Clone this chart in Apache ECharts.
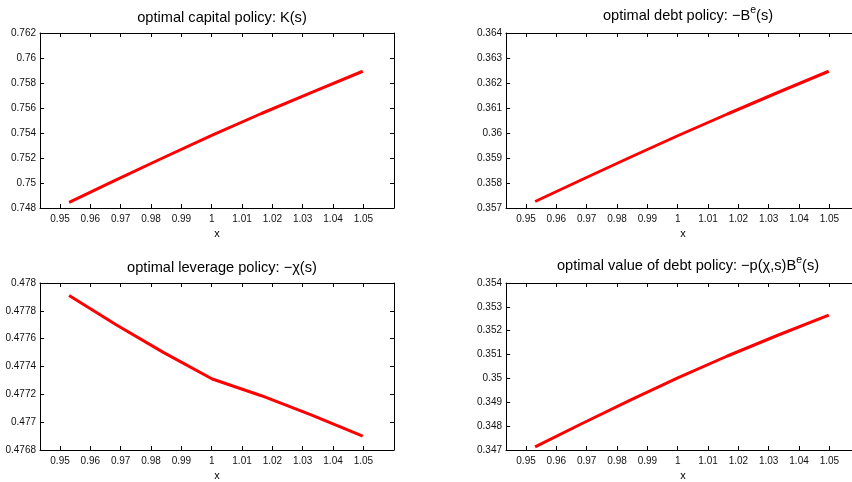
<!DOCTYPE html>
<html>
<head>
<meta charset="utf-8">
<script src="https://cdn.jsdelivr.net/npm/echarts@6/dist/echarts.min.js"></script>
<style>
  html, body { margin: 0; padding: 0; background: #fff; overflow: hidden; }
  /* the right-hand panels run past the window edge in the original figure */
  #chart-container { width: 872px; height: 482px; }
</style>
</head>
<body>
<div id="chart-container"></div>
<script>
// state grid (x) and the four policy functions
var xs = [0.9530, 0.9685, 0.9842, 1.0002, 1.0164, 1.0330, 1.0498];
var capital = [0.74845, 0.75025, 0.75204, 0.75383, 0.75556, 0.75725, 0.75894];
var debt = [0.35726, 0.35814, 0.35902, 0.35990, 0.36076, 0.36162, 0.36247];
var leverage = [0.47791, 0.47770, 0.47750, 0.47731, 0.47719, 0.47705, 0.47690];
var debtValue = [0.34713, 0.34811, 0.34908, 0.35003, 0.35094, 0.35181, 0.35265];

var xTicks = [0.95, 0.96, 0.97, 0.98, 0.99, 1, 1.01, 1.02, 1.03, 1.04, 1.05];
var titles = [
    'optimal capital policy: K(s)',
    'optimal debt policy: \u2212B{sup|e}(s)',
    'optimal leverage policy: \u2212\u03c7(s)',
    'optimal value of debt policy: \u2212p(\u03c7,s)B{sup|e}(s)'
];
var yRanges = [
    [0.748, 0.762, 0.002],
    [0.357, 0.364, 0.001],
    [0.4768, 0.478, 0.0002],
    [0.347, 0.354, 0.001]
];
var seriesData = [capital, debt, leverage, debtValue];

var dom = document.getElementById('chart-container');
var myChart = echarts.init(dom, null, { renderer: 'canvas' });

var font = 'Liberation Sans, Arial, Helvetica, sans-serif';
var boxes = [
    { left: 40, top: 33 },
    { left: 506, top: 33 },
    { left: 40, top: 283 },
    { left: 506, top: 283 }
];
var W = 354, H = 175;

function fmt(v) {
    return String(parseFloat(v.toFixed(5)));
}

var grid = [], xAxis = [], yAxis = [], series = [], title = [];
boxes.forEach(function (b, i) {
    grid.push({ left: b.left, top: b.top, width: W, height: H });
    // titles with a superscript get a taller box, pull them up so baselines match
    var hasSup = titles[i].indexOf('{sup|') >= 0;
    title.push({
        text: titles[i],
        left: b.left + W / 2,
        top: b.top - (hasSup ? 33 : 28),
        textAlign: 'center',
        textStyle: {
            fontFamily: font, fontSize: 14.6, fontWeight: 'normal', color: '#000',
            rich: {
                sup: { fontFamily: font, fontSize: 10.5, fontWeight: 'normal', color: '#000', verticalAlign: 'top', padding: [0, 0, 10, 0] }
            }
        }
    });
    var axLine = { show: true, lineStyle: { color: '#000', width: 1 } };
    var tick = { show: true, inside: true, length: 4, lineStyle: { color: '#000' } };
    // bottom x axis with labels
    xAxis.push({
        type: 'value', gridIndex: i, position: 'bottom',
        min: 0.9434, max: 1.0601,
        name: 'x', nameLocation: 'middle', nameGap: 20,
        nameTextStyle: { fontFamily: font, fontSize: 11, color: '#000' },
        axisLine: axLine,
        axisTick: Object.assign({ customValues: xTicks }, tick),
        axisLabel: { customValues: xTicks, formatter: fmt, fontFamily: font, fontSize: 10, color: '#111', margin: 6 },
        splitLine: { show: false }
    });
    // top x axis: ticks only
    xAxis.push({
        type: 'value', gridIndex: i, position: 'top',
        min: 0.9434, max: 1.0601,
        axisLine: axLine,
        axisTick: Object.assign({ customValues: xTicks }, tick),
        axisLabel: { show: false },
        splitLine: { show: false }
    });
    var r = yRanges[i];
    yAxis.push({
        type: 'value', gridIndex: i, position: 'left',
        min: r[0], max: r[1], interval: r[2],
        axisLine: axLine, axisTick: tick,
        axisLabel: { formatter: fmt, fontFamily: font, fontSize: 10, color: '#111', margin: 4 },
        splitLine: { show: false }
    });
    yAxis.push({
        type: 'value', gridIndex: i, position: 'right',
        min: r[0], max: r[1], interval: r[2],
        axisLine: axLine, axisTick: tick,
        axisLabel: { show: false },
        splitLine: { show: false }
    });
    series.push({
        type: 'line',
        xAxisIndex: i * 2, yAxisIndex: i * 2,
        data: xs.map(function (x, k) { return [x, seriesData[i][k]]; }),
        showSymbol: false,
        symbol: 'none',
        lineStyle: { color: '#ff0000', width: 3 },
        animation: false
    });
});

var option = {
    animation: false,
    backgroundColor: '#fff',
    title: title,
    grid: grid,
    xAxis: xAxis,
    yAxis: yAxis,
    series: series
};

myChart.setOption(option);
window.addEventListener('resize', myChart.resize);
</script>
</body>
</html>
